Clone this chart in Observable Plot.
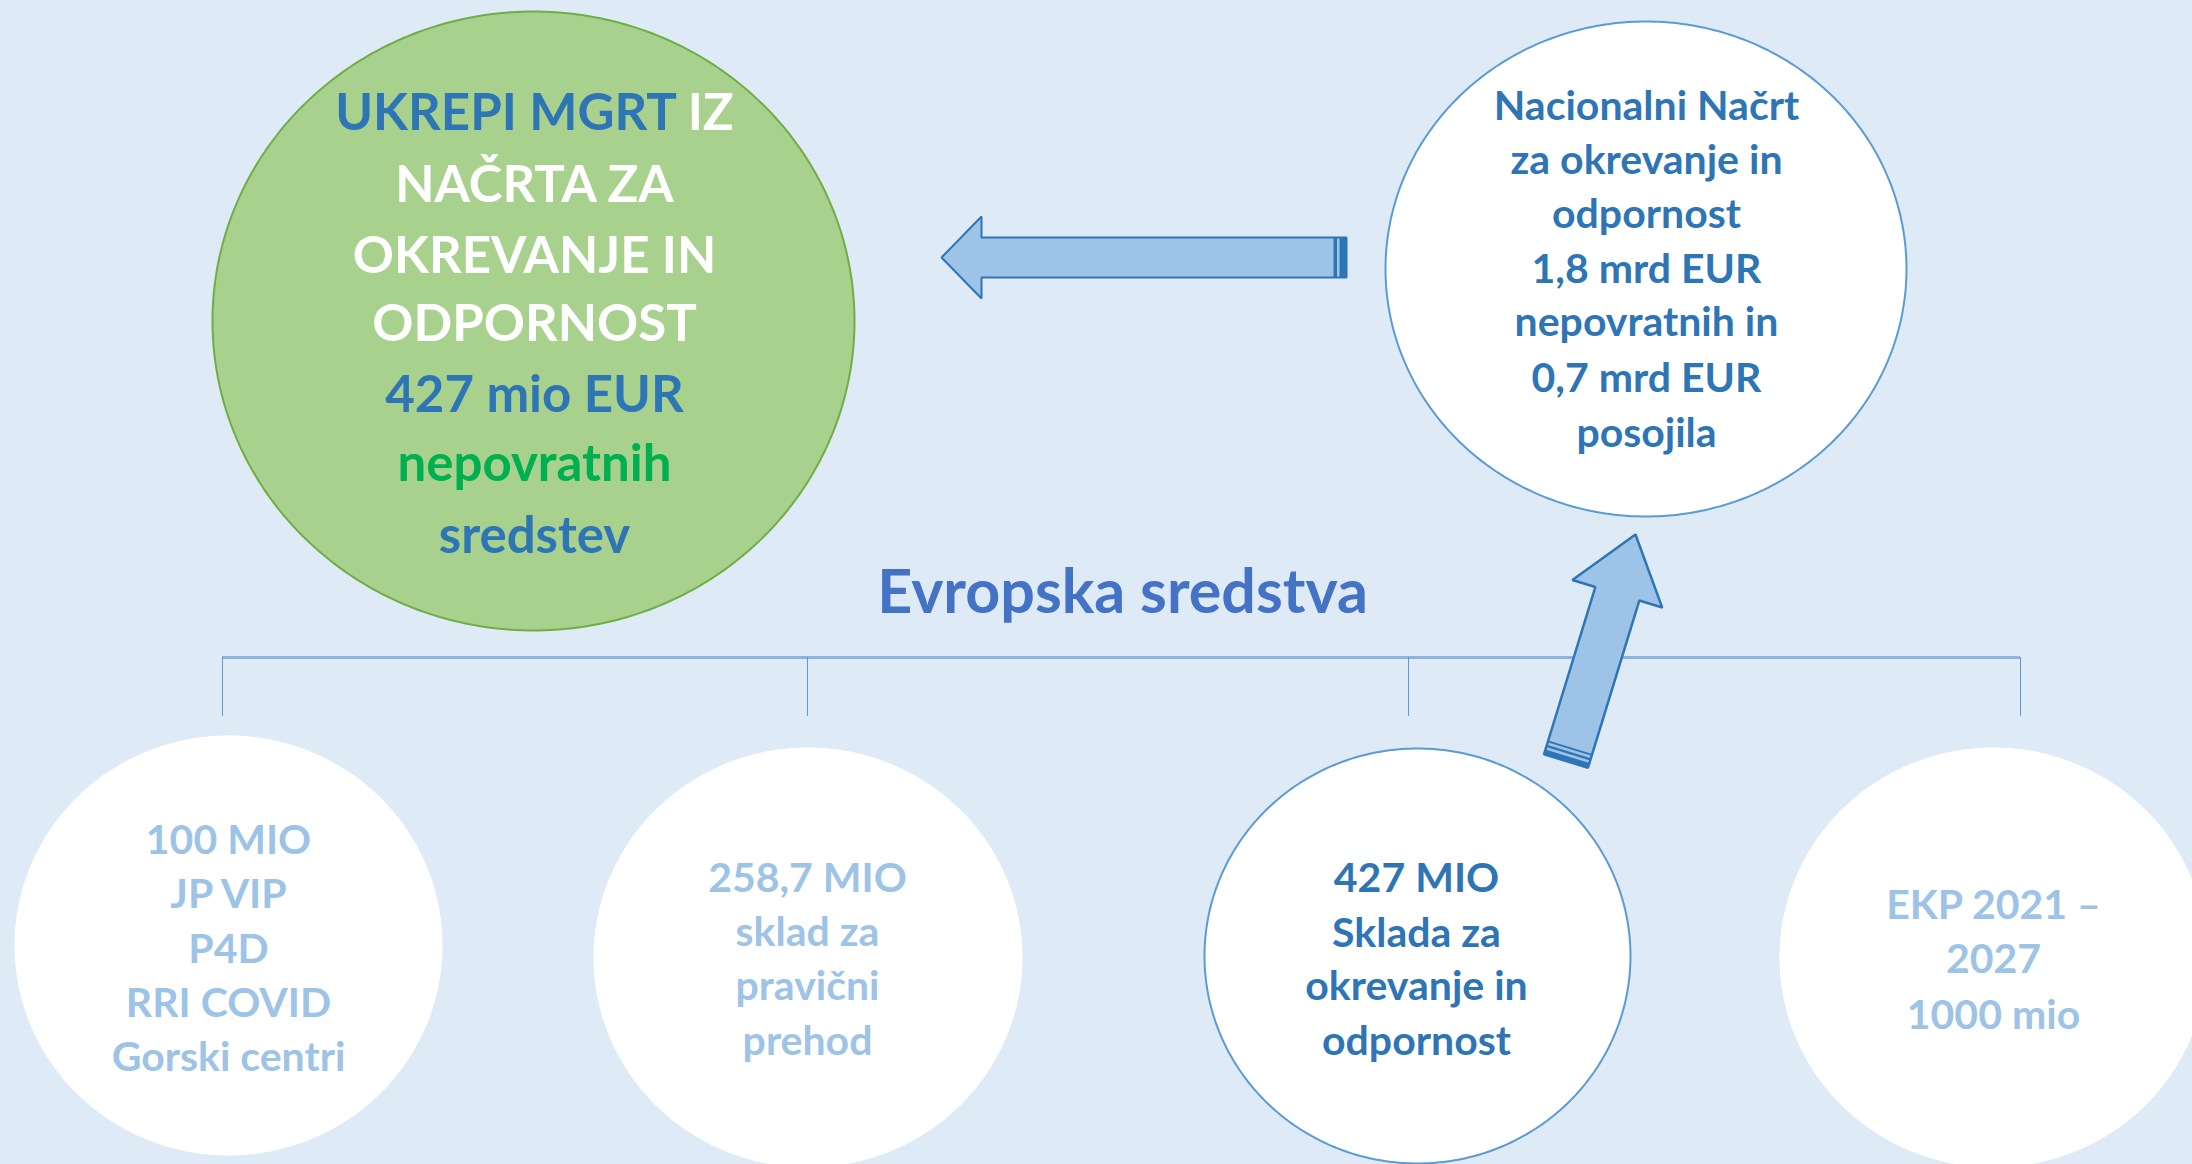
<!DOCTYPE html>
<html><head><meta charset="utf-8">
<script src="https://cdn.jsdelivr.net/npm/d3@7"></script>
<script src="https://cdn.jsdelivr.net/npm/@observablehq/plot@0.6"></script>
<style>html,body{margin:0;padding:0;background:#DEEBF7;overflow:hidden}</style>
</head><body><div id="chart"></div>
<script>
// ---------- content (text of the diagram) ----------
const mgrtLines = ["UKREPI MGRT IZ", "NAČRTA ZA", "OKREVANJE IN", "ODPORNOST", "427 mio EUR", "nepovratnih", "sredstev"];
const nacrtLines = ["Nacionalni Načrt", "za okrevanje in", "odpornost", "1,8 mrd EUR", "nepovratnih in", "0,7 mrd EUR", "posojila"];
const titleText = "Evropska sredstva";
const fund1Lines = ["100 MIO", "JP VIP", "P4D", "RRI COVID", "Gorski centri"];
const fund2Lines = ["258,7 MIO", "sklad za", "pravični", "prehod"];
const fund3Lines = ["427 MIO", "Sklada za", "okrevanje in", "odpornost"];
const fund4Lines = ["EKP 2021 –", "2027", "1000 mio"];

// ---------- layout & style ----------
const W = 2192, H = 1164;
const FONT = "Lato, 'Open Sans', sans-serif";
const DARK = "#2E75B6", LIGHT = "#9DC3E6";

const shapes = [
  {cx: 533,  cy: 320.5, rx: 321,   ry: 309.5, fill: "#A9D18E", stroke: "#70AD47", sw: 2},
  {cx: 1645.5, cy: 268.5, rx: 260.5, ry: 247.5, fill: "#FFFFFF", stroke: "#5B9BD5", sw: 2},
  {cx: 228,  cy: 945,   rx: 214,   ry: 210,   fill: "#FFFFFF", stroke: "none", sw: 0},
  {cx: 807.5, cy: 957,  rx: 214.5, ry: 210,   fill: "#FFFFFF", stroke: "none", sw: 0},
  {cx: 1417, cy: 955.5, rx: 213,   ry: 207.5, fill: "#FFFFFF", stroke: "#5B9BD5", sw: 2},
  {cx: 1993, cy: 957,   rx: 214,   ry: 210,   fill: "#FFFFFF", stroke: "none", sw: 0}
];

function ellipsePts(s, n = 360) {
  return d3.range(n).map(i => {
    const t = 2 * Math.PI * i / n;
    return {x: s.cx + s.rx * Math.cos(t), y: s.cy + s.ry * Math.sin(t)};
  });
}
function frame(tail, tip) {
  const dx = tip[0] - tail[0], dy = tip[1] - tail[1], L = Math.hypot(dx, dy);
  const ux = dx / L, uy = dy / L, nx = -uy, ny = ux;
  return {L, p: (a, b) => ({x: tail[0] + ux * a + nx * b, y: tail[1] + uy * a + ny * b})};
}
function arrowPts(a) {
  const {L, p} = frame(a.tail, a.tip), s = a.shaftW / 2, h = a.headW / 2;
  return [p(0, -s), p(L - a.headL, -s), p(L - a.headL, -h), p(L, 0), p(L - a.headL, h), p(L - a.headL, s), p(0, s)];
}
function stripePts(a, k) {
  const {p} = frame(a.tail, a.tip), s = a.shaftW / 2, [a0, a1] = a.stripes[k];
  return [p(a0, -s), p(a1, -s), p(a1, s), p(a0, s)];
}
const arrows = [
  {tail: [1346, 257], tip: [941, 257], shaftW: 40, headW: 82, headL: 40, sw: 2, stripes: [[0, 7], [9.5, 13]]},
  {tail: [1565.5, 760.5], tip: [1635, 534], shaftW: 46, headW: 94, headL: 62, sw: 2.5, stripes: [[0, 5], [7.5, 10], [12.5, 14.5]]}
];

function lineRows(lines, x, ys, colors, size) {
  return lines.map((t, i) => ({text: t, x, y: ys[i], color: Array.isArray(colors) ? colors[i] : colors, size}));
}
const mgrtColors = [DARK, "#FFFFFF", "#FFFFFF", "#FFFFFF", DARK, "#00B050", DARK];
const texts = [
  ...lineRows(mgrtLines, 534, [113, 185, 256, 324, 395, 464, 536], mgrtColors, 51),
  ...lineRows(nacrtLines, 1646, [106, 160, 214, 269, 322, 378, 433], DARK, 41),
  ...lineRows(fund1Lines, 228, [840, 894, 949, 1003, 1057], LIGHT, 41),
  ...lineRows(fund2Lines, 807, [878, 932, 986, 1041], LIGHT, 41),
  ...lineRows(fund3Lines, 1416, [878, 933, 986, 1041], DARK, 41),
  ...lineRows(fund4Lines, 1993, [905, 959, 1015], LIGHT, 41),
  {text: titleText, x: 1122, y: 593, color: "#4472C4", size: 61}
];

const connector = [{x1: 222, x2: 2020, y: 657}];
const drops = [222, 807, 1408, 2020].map(x => ({x, y1: 657, y2: 716}));

const marks = [
  Plot.ruleY(connector, {x1: "x1", x2: "x2", y: "y", stroke: "#8DB3E2", strokeWidth: 3}),
  Plot.ruleX(drops, {x: "x", y1: "y1", y2: "y2", stroke: "#5B9BD5", strokeWidth: 1}),
  ...shapes.map(s => Plot.line(ellipsePts(s), {x: "x", y: "y", curve: "linear-closed", fill: s.fill, stroke: s.stroke, strokeWidth: s.sw})),
  ...arrows.flatMap(a => [
    Plot.line(arrowPts(a), {x: "x", y: "y", curve: "linear-closed", fill: LIGHT, stroke: DARK, strokeWidth: a.sw, strokeLinejoin: "miter"}),
    ...a.stripes.map((_, k) => Plot.line(stripePts(a, k), {x: "x", y: "y", curve: "linear-closed", fill: DARK, stroke: "none"}))
  ]),
  ...d3.groups(texts, d => d.size).map(([size, rows]) =>
    Plot.text(rows, {x: "x", y: "y", text: "text", fill: d => d.color, fontSize: size, fontWeight: 700, fontFamily: FONT, textAnchor: "middle", lineAnchor: "middle"}))
];

const chart = Plot.plot({
  width: W, height: H, margin: 0,
  x: {domain: [0, W], range: [0, W], axis: null},
  y: {domain: [0, H], range: [0, H], axis: null},
  style: {background: "#DEEBF7", overflow: "visible"},
  marks
});
// mixed colour in the first line of the green circle
chart.querySelectorAll("text").forEach(t => {
  if (t.textContent === "UKREPI MGRT IZ") {
    t.textContent = "UKREPI MGRT";
    const ts = document.createElementNS("http://www.w3.org/2000/svg", "tspan");
    ts.setAttribute("fill", "#FFFFFF");
    ts.textContent = " IZ";
    t.appendChild(ts);
  }
});
document.getElementById("chart").appendChild(chart);
</script></body></html>
